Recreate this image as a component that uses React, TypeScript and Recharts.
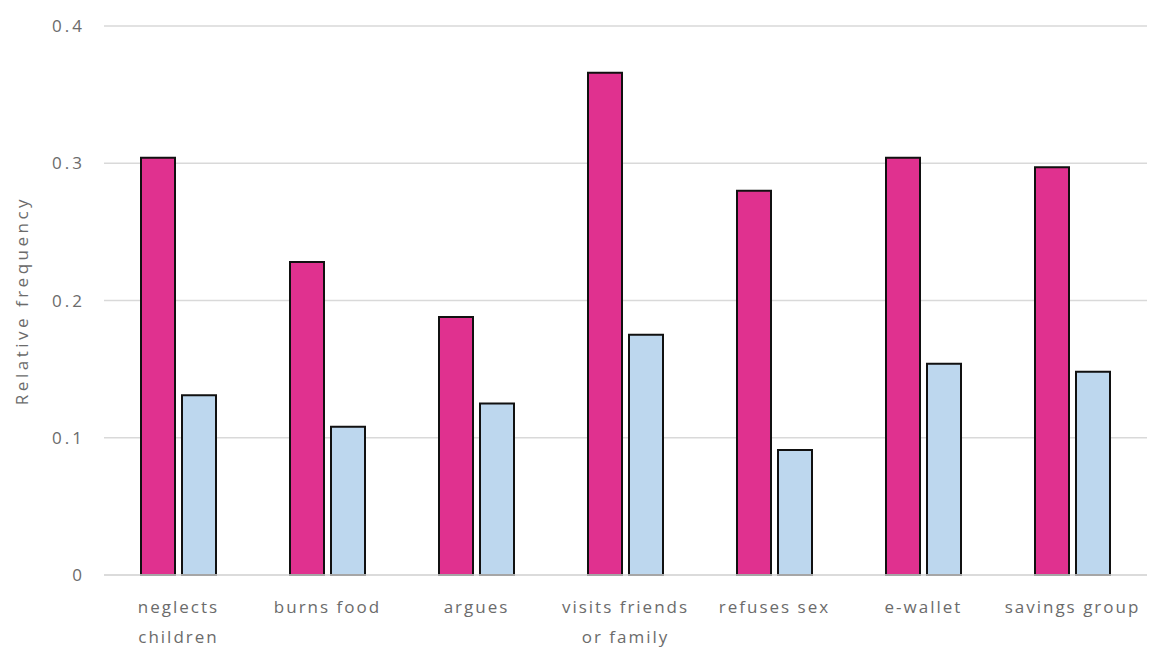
import React from "react";
import { BarChart, Bar, XAxis, YAxis, CartesianGrid, Label } from "recharts";

const categories = [
  "neglects\nchildren",
  "burns food",
  "argues",
  "visits friends\nor family",
  "refuses sex",
  "e-wallet",
  "savings group",
];
const pinkValues = [0.304, 0.228, 0.188, 0.366, 0.28, 0.304, 0.297];
const blueValues = [0.131, 0.108, 0.125, 0.175, 0.091, 0.154, 0.148];
const yTicks = [0, 0.1, 0.2, 0.3, 0.4];

const data = categories.map((name, i) => ({
  name,
  pink: pinkValues[i],
  blue: blueValues[i],
}));

const FONT = "'Open Sans', Lato, sans-serif";
const TEXT = "#6b6b6b";

function CategoryTick(props: any) {
  const { x, y, payload } = props;
  const lines = String(payload.value).split("\n");
  return (
    <text
      x={x}
      y={y}
      textAnchor="middle"
      fill={TEXT}
      fontSize={17}
      fontFamily={FONT}
      letterSpacing={2}
    >
      {lines.map((line: string, i: number) => (
        <tspan key={i} x={x} dy={30}>
          {line}
        </tspan>
      ))}
    </text>
  );
}

export default function App() {
  return (
    <div>
      <style>{`body{margin:0;background:#fff}`}</style>
      <BarChart
        width={1157}
        height={648}
        data={data}
        margin={{ top: 26, right: 10, bottom: 0, left: 0 }}
        barGap={7}
        barSize={34}
      >
        <CartesianGrid vertical={false} stroke="#D9D9D9" strokeWidth={1.5} />
        <XAxis
          dataKey="name"
          height={73}
          tick={<CategoryTick />}
          tickLine={false}
          axisLine={{ stroke: "#D9D9D9", strokeWidth: 1.5 }}
          interval={0}
        />
        <YAxis
          width={104}
          domain={[0, 0.4]}
          ticks={yTicks}
          tickFormatter={(v: number) => (v === 0 ? "0" : String(v))}
          tick={{ fill: TEXT, fontSize: 17, fontFamily: FONT, letterSpacing: 3 }}
          tickLine={false}
          axisLine={false}
          tickSize={0}
          tickMargin={19}
        >
          <Label
            value="Relative frequency"
            angle={-90}
            position="insideLeft"
            offset={22}
            style={{
              fill: TEXT,
              fontSize: 17,
              fontFamily: FONT,
              letterSpacing: 3.5,
              textAnchor: "middle",
            }}
          />
        </YAxis>
        <Bar dataKey="pink" fill="#E0318F" stroke="#111" strokeWidth={2} isAnimationActive={false} />
        <Bar dataKey="blue" fill="#BDD7EE" stroke="#111" strokeWidth={2} isAnimationActive={false} />
      </BarChart>
    </div>
  );
}
